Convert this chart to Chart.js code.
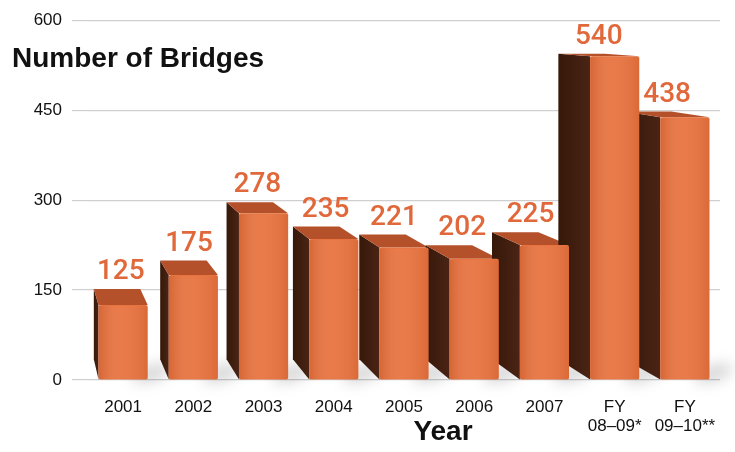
<!DOCTYPE html>
<html>
<head>
<meta charset="utf-8">
<title>Number of Bridges</title>
<script src="https://cdn.jsdelivr.net/npm/chart.js@4.4.1/dist/chart.umd.min.js"></script>
<style>
  html, body { margin: 0; padding: 0; background: #fff; }
  canvas { display: block; }
</style>
</head>
<body>
<canvas id="bridgeChart" width="735" height="452"></canvas>
<script>
// ===== DATA =====
const years = ['2001', '2002', '2003', '2004', '2005', '2006', '2007', ['FY', '08–09*'], ['FY', '09–10**']];
const bridgeCounts = [125, 175, 278, 235, 221, 202, 225, 540, 438];
const yTicks = [0, 150, 300, 450, 600];

// ===== STYLE =====
const FRONT = '#E8733F';
const TOP_FACE = '#B4512B';
const SIDE_DARK = '#361809';
const SIDE_MID = '#4A2415';
const VALUE_COLOR = '#E0683A';
const DEPTH_K = 0.055; // how far the back face sits toward the vanishing point

// back-face offset for a point, pulled toward a point up-left of the plot
function backOffset(chart, x, y) {
  const a = chart.chartArea;
  const vx = a.left - 75, vy = a.top - 8;
  return { dx: (x - vx) * DEPTH_K, dy: (y - vy) * DEPTH_K };
}

function barBox(el) {
  const p = el.getProps(['x', 'y', 'base', 'width'], true);
  return { xL: p.x - p.width / 2, xR: p.x + p.width / 2, yT: p.y, yB: p.base, x: p.x };
}

// sides, tops and floor shadows, drawn before the front faces
const extrudePlugin = {
  id: 'extrude',
  beforeDatasetsDraw(chart) {
    const ctx = chart.ctx;
    const bars = chart.getDatasetMeta(0).data;

    // soft floor shadow
    ctx.save();
    ctx.filter = 'blur(7px)';
    ctx.fillStyle = 'rgba(0,0,0,0.16)';
    bars.forEach(el => {
      const b = barBox(el);
      ctx.beginPath();
      ctx.ellipse(b.xR + 4, b.yB - 6, 20, 8, -0.3, 0, Math.PI * 2);
      ctx.fill();
    });
    ctx.restore();

    bars.forEach(el => {
      const b = barBox(el);
      const tl = backOffset(chart, b.xL, b.yT);
      const tr = backOffset(chart, b.xR, b.yT);
      const bl = backOffset(chart, b.xL, b.yB);

      // left side face
      const g = ctx.createLinearGradient(b.xL - tl.dx, 0, b.xL, 0);
      g.addColorStop(0, SIDE_DARK);
      g.addColorStop(1, SIDE_MID);
      ctx.fillStyle = g;
      ctx.beginPath();
      ctx.moveTo(b.xL, b.yT);
      ctx.lineTo(b.xL - tl.dx, b.yT - tl.dy);
      ctx.lineTo(b.xL - bl.dx, b.yB - bl.dy);
      ctx.lineTo(b.xL, b.yB);
      ctx.closePath();
      ctx.fill();

      // top face
      ctx.fillStyle = TOP_FACE;
      ctx.beginPath();
      ctx.moveTo(b.xL, b.yT);
      ctx.lineTo(b.xR, b.yT);
      ctx.lineTo(b.xR - tr.dx, b.yT - tr.dy);
      ctx.lineTo(b.xL - tl.dx, b.yT - tl.dy);
      ctx.closePath();
      ctx.fill();
    });
  },
  afterDatasetsDraw(chart) {
    const ctx = chart.ctx;
    const bars = chart.getDatasetMeta(0).data;
    bars.forEach((el, i) => {
      const b = barBox(el);
      // a bit of shading across the front face
      const g = ctx.createLinearGradient(b.xL, 0, b.xR, 0);
      g.addColorStop(0, 'rgba(140,45,10,0.20)');
      g.addColorStop(0.45, 'rgba(255,255,255,0.05)');
      g.addColorStop(1, 'rgba(140,45,10,0.14)');
      ctx.fillStyle = g;
      ctx.fillRect(b.xL, b.yT + 1, b.xR - b.xL, b.yB - b.yT - 1);

      // value above the bar
      const tl = backOffset(chart, b.xL, b.yT);
      ctx.save();
      ctx.font = '500 28px Roboto';
      ctx.fillStyle = VALUE_COLOR;
      ctx.textAlign = 'center';
      ctx.textBaseline = 'alphabetic';
      ctx.fillText(String(bridgeCounts[i]), b.x - tl.dx / 2, b.yT - tl.dy - 10);
      ctx.restore();
    });
  },
};

// free-standing titles
const titlesPlugin = {
  id: 'titles',
  afterDraw(chart) {
    const ctx = chart.ctx;
    ctx.save();
    ctx.fillStyle = '#111';
    ctx.textBaseline = 'middle';
    ctx.font = 'bold 28px "Liberation Sans", Arial, sans-serif';
    ctx.textAlign = 'left';
    ctx.fillText('Number of Bridges', 12, 59);
    ctx.font = 'bold 28px "Liberation Sans", Arial, sans-serif';
    ctx.textAlign = 'center';
    ctx.fillText('Year', 443, 432);
    ctx.restore();
  },
};

new Chart(document.getElementById('bridgeChart'), {
  type: 'bar',
  data: {
    labels: years,
    datasets: [{
      label: 'Number of Bridges',
      data: bridgeCounts,
      backgroundColor: FRONT,
      borderWidth: 0,
      borderRadius: 2,
      borderSkipped: false,
      barPercentage: 0.7,
      categoryPercentage: 1,
    }],
  },
  options: {
    responsive: false,
    animation: false,
    layout: { padding: { top: 16, right: 15, left: 0, bottom: 0 } },
    plugins: {
      legend: { display: false },
      tooltip: { enabled: false },
    },
    scales: {
      y: {
        min: 0,
        max: 600,
        afterBuildTicks: axis => { axis.ticks = yTicks.map(v => ({ value: v })); },
        afterFit: axis => { axis.width = 88; },
        ticks: {
          color: '#111',
          padding: 10,
          font: { family: '"Liberation Sans", Arial, sans-serif', size: 17 },
        },
        grid: { color: '#cfcfcf', lineWidth: 1.2, tickLength: 16 },
        border: { display: false },
      },
      x: {
        afterFit: axis => { axis.height = 72; },
        ticks: {
          color: '#111',
          padding: 10,
          maxRotation: 0,
          font: { family: '"Liberation Sans", Arial, sans-serif', size: 17, lineHeight: 1.1 },
        },
        grid: { display: false },
        border: { display: false },
      },
    },
  },
  plugins: [extrudePlugin, titlesPlugin],
});
</script>
</body>
</html>
